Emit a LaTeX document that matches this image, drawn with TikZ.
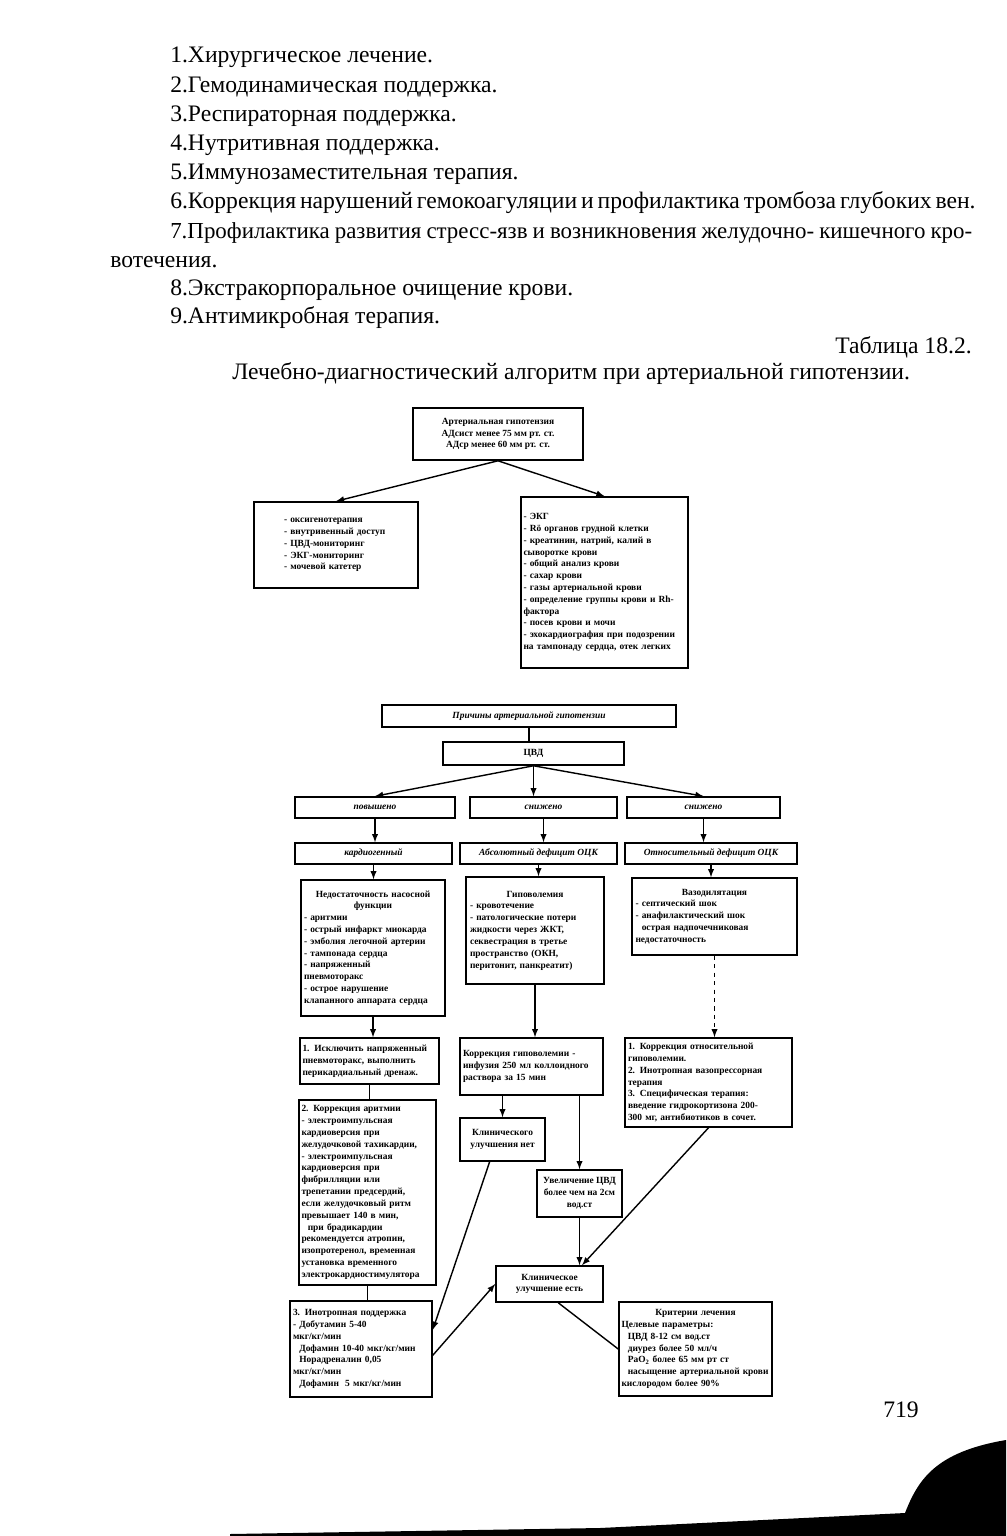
\documentclass[tikz,border=0pt]{standalone}
\usepackage{fontspec}
\setmainfont{Liberation Serif}
\newcommand\ctr[1]{\makebox[\hsize]{#1}}
\begin{document}
\begin{tikzpicture}[x=0.25mm, y=-0.25mm, >=latex,
    txt/.style={inner sep=0pt, font=\fontsize{16.8}{19}\selectfont},
    box/.style={draw, line width=1.1pt, inner sep=0.5mm, align=left,
      font=\fontsize{6.7}{8.4}\selectfont\bfseries},
    hd/.style={box, align=center, font=\fontsize{6.7}{8.4}\selectfont\bfseries\itshape},
    link/.style={line width=1pt}]
    \useasboundingbox (0,0) rectangle (1006,1536);
    % page text
    \foreach \i/\y/\t in {1/57/Хирургическое лечение., 2/87/Гемодинамическая поддержка.,
      3/116/Респираторная поддержка., 4/145/Нутритивная поддержка.,
      5/174/Иммунозаместительная терапия., 8/290/Экстракорпоральное очищение крови.,
      9/318/Антимикробная терапия.}{
      \node[txt, anchor=west] (item\i) at (170,\y) {\i.\t};
    }
    \node[txt, anchor=west] (item6) at (170,203)
      {\makebox[200.5mm][s]{6.Коррекция нарушений гемокоагуляции и профилактика тромбоза глубоких вен.}};
    \node[txt, anchor=west] (item7) at (170,233)
      {\fontsize{16.3}{19}\selectfont\makebox[200.5mm][s]{7.Профилактика развития стресс-язв и возникновения желудочно- кишечного кро-}};
    \node[txt, anchor=west] (item7b) at (110,262) {вотечения.};
    \node[txt, anchor=east] (tabnum) at (972,347) {Таблица 18.2.};
    \node[txt, anchor=west] (title) at (232,374)
      {Лечебно-диагностический алгоритм при артериальной гипотензии.};
    \node[txt] (page) at (901,1410) {719};
    % first part
    \node[box, align=center, minimum width=42.5mm, minimum height=13mm] (hypo) at (498,434)
      {Артериальная гипотензия\\ АДсист менее 75 мм рт. ст.\\ АДср менее 60 мм рт. ст.};
    \node[box, text width=26mm, minimum width=41mm, minimum height=21.5mm] (care) at (336,545)
      {- оксигенотерапия\\- внутривенный доступ\\- ЦВД-мониторинг\\- ЭКГ-мониторинг\\- мочевой катетер\\[8pt]};
    \node[box, text width=40.5mm, minimum width=41.75mm, minimum height=42.75mm] (exam) at (604.5,582.5)
      {- ЭКГ\\- Rö органов грудной клетки\\- креатинин, натрий, калий в\\сыворотке крови\\- общий анализ крови\\- сахар крови\\- газы артериальной крови\\- определение группы крови и Rh-\\фактора\\- посев крови и мочи\\- эхокардиография при подозрении\\на тампонаду сердца, отек легких\\[8pt]};
    \draw[link, ->] (hypo.south) -- (care.north);
    \draw[link, ->] (hypo.south) -- (exam.north);
    % second part
    \node[hd, minimum width=73.5mm, minimum height=5.5mm] (cause) at (529,716) {Причины артериальной гипотензии};
    \node[hd, font=\fontsize{6.7}{8.4}\selectfont\bfseries, minimum width=45.25mm, minimum height=5.75mm] (cvp) at (533.5,753.5) {ЦВД};
    \node[hd, minimum width=40mm, minimum height=5.25mm] (up) at (375,807.5) {повышено};
    \node[hd, minimum width=36.75mm, minimum height=5.25mm] (lowa) at (543.5,807.5) {снижено};
    \node[hd, minimum width=38.25mm, minimum height=5.25mm] (lowb) at (703.5,807.5) {снижено};
    \node[hd, minimum width=39.25mm, minimum height=5.25mm] (cardio) at (373.5,853.5) {кардиогенный};
    \node[hd, minimum width=39.25mm, minimum height=5.25mm] (absdef) at (538.5,853.5) {Абсолютный дефицит ОЦК};
    \node[hd, minimum width=43mm, minimum height=5.25mm] (reldef) at (711,853.5) {Относительный дефицит ОЦК};
    \node[box, text width=34.5mm, minimum width=36mm, minimum height=34mm] (pump) at (373,948)
      {\ctr{Недостаточность насосной}\\\ctr{функции}\\- аритмии\\- острый инфаркт миокарда\\- эмболия легочной артерии\\- тампонада сердца\\- напряженный\\пневмоторакс\\- острое нарушение\\клапанного аппарата сердца};
    \node[box, text width=32.5mm, minimum width=34.5mm, minimum height=26.75mm] (hypov) at (535,930.5)
      {\ctr{Гиповолемия}\\- кровотечение\\- патологические потери\\жидкости через ЖКТ,\\секвестрация в третье\\пространство (ОКН,\\перитонит, панкреатит)\\[8pt]};
    \node[box, text width=39.5mm, minimum width=41.25mm, minimum height=19.25mm] (vaso) at (714.5,916.5)
      {\ctr{Вазодилятация}\\- септический шок\\- анафилактический шок\\\ \ острая надпочечниковая\\недостаточность\\[6pt]};
    \draw[link] (cause.south) -- (cause.south |- cvp.north);
    \draw[link, ->] (cvp.south) -- (up.north);
    \draw[link, ->] (cvp.south) -- (cvp.south |- lowa.north);
    \draw[link, ->] (cvp.south) -- (lowb.north);
    \foreach \a/\b in {up/cardio, lowa/absdef, lowb/reldef, cardio/pump, absdef/hypov, reldef/vaso}
      \draw[link, ->] (\a.south) -- (\a.south |- \b.north);
    % treatment
    \node[box, text width=33.5mm, minimum width=34.75mm, minimum height=11.5mm] (drain) at (369.5,1061)
      {1. Исключить напряженный\\пневмоторакс, выполнить\\перикардиальный дренаж.};
    \node[box, text width=33mm, minimum width=34.25mm, minimum height=46.25mm] (arrh) at (367.5,1192.5)
      {2. Коррекция аритмии\\- электроимпульсная\\кардиоверсия при\\желудочковой тахикардии,\\- электроимпульсная\\кардиоверсия при\\фибрилляции или\\трепетании предсердий,\\если желудочковый ритм\\превышает 140 в мин,\\\ \ при брадикардии\\рекомендуется атропин,\\изопротеренол, временная\\установка временного\\электрокардиостимулятора};
    \node[box, text width=34mm, minimum width=35.5mm, minimum height=24mm] (inotr) at (361,1349)
      {3. Инотропная поддержка\\- Добутамин 5-40\\мкг/кг/мин\\\ \ Дофамин 10-40 мкг/кг/мин\\\ \ Норадреналин 0,05\\мкг/кг/мин\\\ \ Дофамин \ 5 мкг/кг/мин};
    \node[box, text width=34.25mm, minimum width=35.75mm, minimum height=14.25mm] (fluid) at (531.5,1066.5)
      {Коррекция гиповолемии -\\инфузия 250 мл коллоидного\\раствора за 15 мин\\[6pt]};
    \node[box, align=center, minimum width=21.25mm, minimum height=10.75mm] (nobetter) at (502.5,1139.5)
      {Клинического\\улучшения нет};
    \node[box, align=center, minimum width=21.25mm, minimum height=11.75mm] (cvprise) at (579.5,1193.5)
      {Увеличение ЦВД\\более чем на 2см\\вод.ст};
    \node[box, text width=40.25mm, minimum width=41.75mm, minimum height=22.25mm] (relcorr) at (708.5,1082.5)
      {1. Коррекция относительной\\гиповолемии.\\2. Инотропная вазопрессорная\\терапия\\3. Специфическая терапия:\\введение гидрокортизона 200-\\300 мг, антибиотиков в сочет.};
    \node[box, align=center, minimum width=26.75mm, minimum height=9mm] (better) at (549.5,1284)
      {Клиническое\\улучшение есть};
    \node[box, text width=37mm, minimum width=38.25mm, minimum height=23.5mm] (goal) at (695.5,1349)
      {\ctr{Критерии лечения}\\Целевые параметры:\\\ \ ЦВД 8-12 см вод.ст\\\ \ диурез более 50 мл/ч\\\ \ PaO\textsubscript{2} более 65 мм рт ст\\\ \ насыщение артериальной крови\\кислородом более 90\%};
    \draw[link, ->] (pump.south) -- (pump.south |- drain.north);
    \draw[link] (drain.south) -- (drain.south |- arrh.north);
    \draw[link] (arrh.south) -- (arrh.south |- inotr.north);
    \draw[link, ->] (hypov.south) -- (hypov.south |- fluid.north);
    \draw[link, ->, dashed] (vaso.south) -- (vaso.south |- relcorr.north);
    \draw[link, ->] (nobetter.north |- fluid.south) -- (nobetter.north);
    \draw[link, ->] (cvprise.north |- fluid.south) -- (cvprise.north);
    \draw[link, ->] (nobetter.240) -- (inotr.15);
    \draw[link, ->] (inotr.-5) -- (better.west);
    \draw[link, ->] (cvprise.south) -- (cvprise.south |- better.north);
    \draw[link, ->] (relcorr.south) -- (better.30);
    \draw[link] (better.-65) -- (goal.west);
    % scan edge
    \fill (230,1534) -- (600,1528) -- (905,1513) .. controls (918,1480) and (935,1452) .. (1006,1440)
      -- (1006,1536) -- (230,1536) -- cycle;
\end{tikzpicture}
\end{document}
